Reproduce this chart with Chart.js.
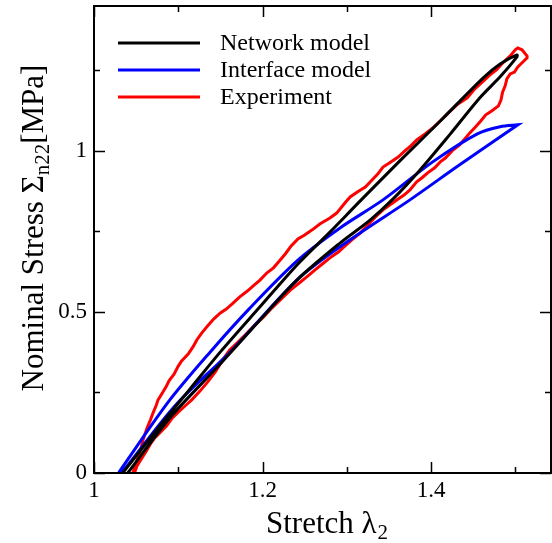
<!DOCTYPE html>
<html>
<head>
<meta charset="utf-8">
<script src="https://cdn.jsdelivr.net/npm/chart.js@4.4.1/dist/chart.umd.min.js"></script>
<style>
  html, body { margin: 0; padding: 0; background: #fff; }
  #wrap { width: 552px; height: 543px; }
</style>
</head>
<body>
<div id="wrap"><canvas id="stressChart" width="552" height="543"></canvas></div>
<script>
// Axis ranges and ticks
const xRange = [1, 1.5424];
const yRange = [0, 1.45];
const xMajorTicks = [1, 1.2, 1.4];
const xMinorTicks = [1.1, 1.3, 1.5];
const yMajorTicks = [0, 0.5, 1];
const yMinorTicks = [0.25, 0.75, 1.25];

// Network model (loading / unloading)
const netLoadX = [1.034, 1.078, 1.114, 1.150, 1.197, 1.242, 1.280, 1.316, 1.363, 1.411, 1.462, 1.482, 1.502];
const netLoadY = [0, 0.146, 0.261, 0.376, 0.516, 0.649, 0.748, 0.845, 0.969, 1.093, 1.227, 1.270, 1.298];
const netUnloadX = [1.502, 1.482, 1.458, 1.423, 1.387, 1.355, 1.328, 1.292, 1.242, 1.197, 1.150, 1.090, 1.040];
const netUnloadY = [1.292, 1.230, 1.165, 1.053, 0.941, 0.851, 0.786, 0.714, 0.602, 0.475, 0.339, 0.171, 0];

// Interface model
const ifLoadX = [1.029, 1.088, 1.138, 1.185, 1.242, 1.292, 1.343, 1.402, 1.455, 1.482, 1.503];
const ifLoadY = [0, 0.220, 0.376, 0.512, 0.661, 0.761, 0.848, 0.966, 1.053, 1.075, 1.081];
const ifUnloadX = [1.503, 1.434, 1.375, 1.304, 1.242, 1.164, 1.097, 1.033];
const ifUnloadY = [1.081, 0.957, 0.848, 0.724, 0.602, 0.382, 0.211, 0];

// Experiment
const expLoadX = [1.046, 1.049, 1.052, 1.056, 1.058, 1.063, 1.067, 1.070, 1.074, 1.076, 1.082, 1.086, 1.089, 1.095, 1.100, 1.104, 1.112, 1.118, 1.122, 1.128, 1.135, 1.142, 1.150, 1.157, 1.164, 1.173, 1.182, 1.189, 1.197, 1.205, 1.213, 1.220, 1.227, 1.234, 1.242, 1.250, 1.259, 1.268, 1.280, 1.288, 1.298, 1.304, 1.313, 1.322, 1.330, 1.337, 1.343, 1.351, 1.361, 1.369, 1.376, 1.383, 1.393, 1.402, 1.412, 1.423, 1.432, 1.443, 1.452, 1.462, 1.470, 1.478, 1.485, 1.494, 1.500, 1.503, 1.508, 1.514];
const expLoadY = [0, 0.022, 0.047, 0.078, 0.102, 0.140, 0.165, 0.186, 0.211, 0.227, 0.252, 0.270, 0.286, 0.307, 0.332, 0.348, 0.370, 0.394, 0.413, 0.435, 0.457, 0.478, 0.497, 0.509, 0.525, 0.547, 0.565, 0.581, 0.599, 0.621, 0.637, 0.658, 0.680, 0.705, 0.727, 0.739, 0.755, 0.773, 0.792, 0.807, 0.839, 0.857, 0.873, 0.888, 0.910, 0.929, 0.950, 0.963, 0.981, 1.000, 1.016, 1.034, 1.053, 1.071, 1.096, 1.124, 1.146, 1.165, 1.193, 1.217, 1.236, 1.252, 1.273, 1.295, 1.314, 1.320, 1.314, 1.295];
const expUnloadX = [1.514, 1.509, 1.503, 1.499, 1.494, 1.490, 1.488, 1.485, 1.483, 1.480, 1.472, 1.465, 1.459, 1.453, 1.446, 1.440, 1.434, 1.425, 1.417, 1.411, 1.404, 1.396, 1.389, 1.383, 1.375, 1.368, 1.361, 1.351, 1.343, 1.334, 1.325, 1.316, 1.306, 1.298, 1.290, 1.280, 1.271, 1.262, 1.254, 1.245, 1.233, 1.221, 1.211, 1.201, 1.191, 1.182, 1.170, 1.161, 1.152, 1.144, 1.135, 1.126, 1.116, 1.108, 1.100, 1.093, 1.086, 1.078, 1.072, 1.067, 1.062, 1.056, 1.051, 1.048];
const expUnloadY = [1.289, 1.276, 1.261, 1.245, 1.239, 1.224, 1.202, 1.183, 1.158, 1.140, 1.124, 1.112, 1.093, 1.075, 1.056, 1.037, 1.019, 1.000, 0.978, 0.966, 0.947, 0.932, 0.916, 0.904, 0.879, 0.863, 0.851, 0.832, 0.817, 0.795, 0.770, 0.745, 0.724, 0.705, 0.686, 0.668, 0.649, 0.630, 0.612, 0.593, 0.568, 0.537, 0.512, 0.484, 0.460, 0.435, 0.404, 0.382, 0.348, 0.314, 0.283, 0.255, 0.227, 0.208, 0.189, 0.171, 0.146, 0.124, 0.109, 0.090, 0.068, 0.043, 0.022, 0];

const SERIF = "'Liberation Serif', 'Times New Roman', serif";

function toPoints(xs, ys) {
    return xs.map((x, i) => ({ x: x, y: ys[i] }));
}

// Frame, inward ticks, legend and axis titles
const decorPlugin = {
    id: 'decor',
    afterDraw(chart) {
        const { ctx, chartArea } = chart;
        const { left, right, top, bottom } = chartArea;
        const xs = chart.scales.x;
        const ys = chart.scales.y;
        ctx.save();
        ctx.strokeStyle = '#000';
        ctx.lineWidth = 2;
        ctx.strokeRect(left, top, right - left, bottom - top);

        ctx.lineWidth = 1.5;
        function xTick(v, len) {
            const px = Math.round(xs.getPixelForValue(v)) + 0.5;
            ctx.beginPath();
            ctx.moveTo(px, bottom); ctx.lineTo(px, bottom - len);
            ctx.moveTo(px, top); ctx.lineTo(px, top + len);
            ctx.stroke();
        }
        function yTick(v, len) {
            const py = Math.round(ys.getPixelForValue(v)) + 0.5;
            ctx.beginPath();
            ctx.moveTo(left, py); ctx.lineTo(left + len, py);
            ctx.moveTo(right, py); ctx.lineTo(right - len, py);
            ctx.stroke();
        }
        xMajorTicks.forEach(v => xTick(v, 11));
        xMinorTicks.forEach(v => xTick(v, 6));
        yMajorTicks.forEach(v => yTick(v, 11));
        yMinorTicks.forEach(v => yTick(v, 6));

        // legend
        ctx.font = '24px ' + SERIF;
        ctx.textBaseline = 'middle';
        ctx.fillStyle = '#000';
        chart.data.datasets.forEach((ds, i) => {
            const y = 43 + i * 27;
            ctx.strokeStyle = ds.borderColor;
            ctx.lineWidth = 3;
            ctx.beginPath();
            ctx.moveTo(118, y); ctx.lineTo(200, y);
            ctx.stroke();
            ctx.fillText(ds.label, 220, y + 1);
        });

        // x title: Stretch λ2
        ctx.textBaseline = 'alphabetic';
        ctx.font = '31px ' + SERIF;
        const main = 'Stretch \u03bb';
        const wMain = ctx.measureText(main).width;
        ctx.font = '21px ' + SERIF;
        const wSub = ctx.measureText('2').width;
        const xStart = (left + right) / 2 + 4 - (wMain + wSub) / 2;
        ctx.font = '31px ' + SERIF;
        ctx.fillText(main, xStart, 533);
        ctx.font = '21px ' + SERIF;
        ctx.fillText('2', xStart + wMain + 1, 539);

        // y title: Nominal Stress Σn22[MPa]
        ctx.save();
        ctx.translate(43, 228);
        ctx.rotate(-Math.PI / 2);
        ctx.font = '31px ' + SERIF;
        const p1 = 'Nominal Stress \u03a3';
        const p3 = '[MPa]';
        const w1 = ctx.measureText(p1).width;
        const w3 = ctx.measureText(p3).width;
        ctx.font = '21px ' + SERIF;
        const w2 = ctx.measureText('n22').width;
        let x0 = -(w1 + w2 + w3) / 2;
        ctx.font = '31px ' + SERIF;
        ctx.fillText(p1, x0, 0);
        ctx.font = '21px ' + SERIF;
        ctx.fillText('n22', x0 + w1, 6);
        ctx.font = '31px ' + SERIF;
        ctx.fillText(p3, x0 + w1 + w2, 0);
        ctx.restore();

        ctx.restore();
    }
};

const ctx = document.getElementById('stressChart').getContext('2d');
new Chart(ctx, {
    type: 'scatter',
    data: {
        datasets: [
            {
                label: 'Network model',
                data: toPoints(netLoadX.concat(netUnloadX), netLoadY.concat(netUnloadY)),
                borderColor: '#000000',
                borderWidth: 3,
                showLine: true,
                tension: 0.3,
                pointRadius: 0
            },
            {
                label: 'Interface model',
                data: toPoints(ifLoadX.concat(ifUnloadX), ifLoadY.concat(ifUnloadY)),
                borderColor: '#0000ff',
                borderWidth: 3,
                showLine: true,
                tension: 0.3,
                pointRadius: 0
            },
            {
                label: 'Experiment',
                data: toPoints(expLoadX.concat(expUnloadX), expLoadY.concat(expUnloadY)),
                borderColor: '#ff0000',
                borderWidth: 3,
                showLine: true,
                tension: 0,
                pointRadius: 0
            }
        ]
    },
    options: {
        responsive: false,
        animation: false,
        layout: { padding: { left: 0, right: 1, top: 6, bottom: 0 } },
        plugins: {
            legend: { display: false },
            tooltip: { enabled: false }
        },
        scales: {
            x: {
                type: 'linear',
                min: xRange[0],
                max: xRange[1],
                grid: { display: false, drawTicks: false },
                border: { display: false },
                afterBuildTicks: s => { s.ticks = xMajorTicks.map(v => ({ value: v })); },
                afterFit: s => { s.height = 70; s.paddingLeft = 0; s.paddingRight = 0; },
                ticks: {
                    padding: 4,
                    color: '#000',
                    maxRotation: 0,
                    font: { family: SERIF, size: 23 },
                    callback: v => String(v)
                }
            },
            y: {
                type: 'linear',
                min: yRange[0],
                max: yRange[1],
                grid: { display: false, drawTicks: false },
                border: { display: false },
                afterBuildTicks: s => { s.ticks = yMajorTicks.map(v => ({ value: v })); },
                afterFit: s => { s.width = 94; s.paddingTop = 0; s.paddingBottom = 0; },
                ticks: {
                    padding: 7,
                    color: '#000',
                    font: { family: SERIF, size: 23 },
                    callback: v => String(v)
                }
            }
        }
    },
    plugins: [decorPlugin]
});
</script>
</body>
</html>
